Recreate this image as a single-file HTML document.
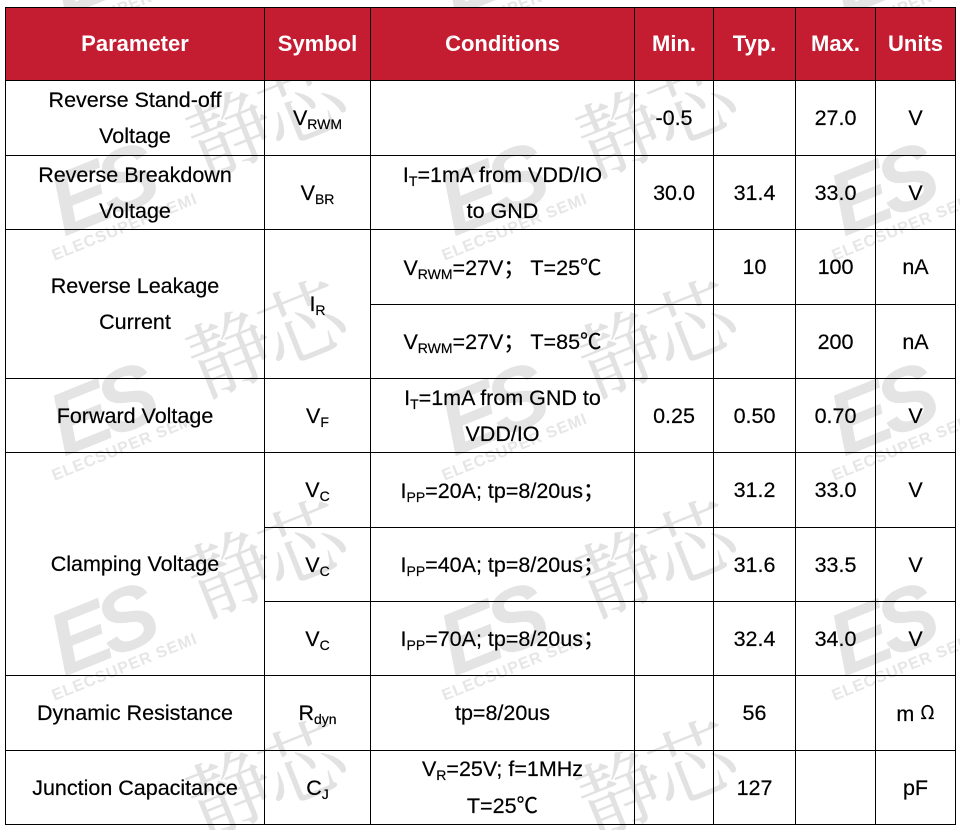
<!DOCTYPE html>
<html><head><meta charset="utf-8">
<style>
html{margin:0;padding:0;width:960px;height:830px;overflow:hidden;background:#fff;}
body{margin:0;padding:0;background:#fff;width:960px;height:830px;position:relative;overflow:hidden;font-family:"Liberation Sans","Noto Sans CJK SC",sans-serif;}
.c{position:absolute;box-sizing:border-box;border-right:1px solid #000;border-bottom:1px solid #000;display:flex;align-items:center;justify-content:center;text-align:center;font-size:21.5px;line-height:36px;color:#000;z-index:2;-webkit-text-stroke:0.2px #000;}
.h{background:#C41D32;color:#fff;font-weight:bold;font-size:22px;-webkit-text-stroke:0;}
sub{font-size:14px;vertical-align:-4px;line-height:0;}
.cj{font-family:"Noto Sans CJK SC","Liberation Sans",sans-serif;}
.ln{position:absolute;background:#000;z-index:3;}
#wmwrap{position:absolute;left:0;top:0;width:960px;height:830px;overflow:hidden;z-index:4;pointer-events:none;mix-blend-mode:darken;}
.wm{position:absolute;white-space:nowrap;transform:translate(-50%,-50%) rotate(-22deg);}
.k{font-family:"Noto Serif CJK SC",serif;font-size:84px;color:#e2e2e2;letter-spacing:-6px;}
.e{font-family:"Liberation Sans",sans-serif;font-weight:bold;font-style:italic;font-size:88px;color:#e4e4e4;letter-spacing:-8px;}
.t{font-family:"Liberation Sans",sans-serif;font-weight:bold;font-size:16px;color:#e6e6e6;letter-spacing:1px;}
</style></head><body>

<div class="ln" style="left:5px;top:7px;width:951px;height:1px;"></div>
<div class="ln" style="left:5px;top:7px;width:1px;height:818px;"></div>

<!-- header -->
<div class="c h" style="left:6px;top:8px;width:259px;height:73px;">Parameter</div>
<div class="c h" style="left:265px;top:8px;width:106px;height:73px;">Symbol</div>
<div class="c h" style="left:371px;top:8px;width:264px;height:73px;">Conditions</div>
<div class="c h" style="left:635px;top:8px;width:79px;height:73px;">Min.</div>
<div class="c h" style="left:714px;top:8px;width:82px;height:73px;">Typ.</div>
<div class="c h" style="left:796px;top:8px;width:80px;height:73px;">Max.</div>
<div class="c h" style="left:876px;top:8px;width:80px;height:73px;">Units</div>

<!-- row1 80-155 -->
<div class="c" style="left:6px;top:81px;width:259px;height:75px;">Reverse Stand-off<br>Voltage</div>
<div class="c" style="left:265px;top:81px;width:106px;height:75px;"><span>V<sub>RWM</sub></span></div>
<div class="c" style="left:371px;top:81px;width:264px;height:75px;"></div>
<div class="c" style="left:635px;top:81px;width:79px;height:75px;">-0.5</div>
<div class="c" style="left:714px;top:81px;width:82px;height:75px;"></div>
<div class="c" style="left:796px;top:81px;width:80px;height:75px;">27.0</div>
<div class="c" style="left:876px;top:81px;width:80px;height:75px;">V</div>

<!-- row2 155-229 -->
<div class="c" style="left:6px;top:156px;width:259px;height:74px;">Reverse Breakdown<br>Voltage</div>
<div class="c" style="left:265px;top:156px;width:106px;height:74px;"><span>V<sub>BR</sub></span></div>
<div class="c" style="left:371px;top:156px;width:264px;height:74px;"><span>I<sub>T</sub>=1mA from VDD/IO<br>to GND</span></div>
<div class="c" style="left:635px;top:156px;width:79px;height:74px;">30.0</div>
<div class="c" style="left:714px;top:156px;width:82px;height:74px;">31.4</div>
<div class="c" style="left:796px;top:156px;width:80px;height:74px;">33.0</div>
<div class="c" style="left:876px;top:156px;width:80px;height:74px;">V</div>

<!-- row3 229-378 -->
<div class="c" style="left:6px;top:230px;width:259px;height:149px;">Reverse Leakage<br>Current</div>
<div class="c" style="left:265px;top:230px;width:106px;height:149px;"><span>I<sub>R</sub></span></div>
<div class="c" style="left:371px;top:230px;width:264px;height:75px;"><span>V<sub>RWM</sub>=27V<span class="cj">；</span> T=25<span class="cj">℃</span></span></div>
<div class="c" style="left:635px;top:230px;width:79px;height:75px;"></div>
<div class="c" style="left:714px;top:230px;width:82px;height:75px;">10</div>
<div class="c" style="left:796px;top:230px;width:80px;height:75px;">100</div>
<div class="c" style="left:876px;top:230px;width:80px;height:75px;">nA</div>
<div class="c" style="left:371px;top:305px;width:264px;height:74px;"><span>V<sub>RWM</sub>=27V<span class="cj">；</span> T=85<span class="cj">℃</span></span></div>
<div class="c" style="left:635px;top:305px;width:79px;height:74px;"></div>
<div class="c" style="left:714px;top:305px;width:82px;height:74px;"></div>
<div class="c" style="left:796px;top:305px;width:80px;height:74px;">200</div>
<div class="c" style="left:876px;top:305px;width:80px;height:74px;">nA</div>

<!-- row4 378-452 -->
<div class="c" style="left:6px;top:379px;width:259px;height:74px;">Forward Voltage</div>
<div class="c" style="left:265px;top:379px;width:106px;height:74px;"><span>V<sub>F</sub></span></div>
<div class="c" style="left:371px;top:379px;width:264px;height:74px;"><span>I<sub>T</sub>=1mA from GND to<br>VDD/IO</span></div>
<div class="c" style="left:635px;top:379px;width:79px;height:74px;">0.25</div>
<div class="c" style="left:714px;top:379px;width:82px;height:74px;">0.50</div>
<div class="c" style="left:796px;top:379px;width:80px;height:74px;">0.70</div>
<div class="c" style="left:876px;top:379px;width:80px;height:74px;">V</div>

<!-- row5 452-675 -->
<div class="c" style="left:6px;top:453px;width:259px;height:223px;">Clamping Voltage</div>
<div class="c" style="left:265px;top:453px;width:106px;height:75px;"><span>V<sub>C</sub></span></div>
<div class="c" style="left:371px;top:453px;width:264px;height:75px;"><span>I<sub>PP</sub>=20A; tp=8/20us<span class="cj">；</span></span></div>
<div class="c" style="left:635px;top:453px;width:79px;height:75px;"></div>
<div class="c" style="left:714px;top:453px;width:82px;height:75px;">31.2</div>
<div class="c" style="left:796px;top:453px;width:80px;height:75px;">33.0</div>
<div class="c" style="left:876px;top:453px;width:80px;height:75px;">V</div>

<div class="c" style="left:265px;top:528px;width:106px;height:74px;"><span>V<sub>C</sub></span></div>
<div class="c" style="left:371px;top:528px;width:264px;height:74px;"><span>I<sub>PP</sub>=40A; tp=8/20us<span class="cj">；</span></span></div>
<div class="c" style="left:635px;top:528px;width:79px;height:74px;"></div>
<div class="c" style="left:714px;top:528px;width:82px;height:74px;">31.6</div>
<div class="c" style="left:796px;top:528px;width:80px;height:74px;">33.5</div>
<div class="c" style="left:876px;top:528px;width:80px;height:74px;">V</div>

<div class="c" style="left:265px;top:602px;width:106px;height:74px;"><span>V<sub>C</sub></span></div>
<div class="c" style="left:371px;top:602px;width:264px;height:74px;"><span>I<sub>PP</sub>=70A; tp=8/20us<span class="cj">；</span></span></div>
<div class="c" style="left:635px;top:602px;width:79px;height:74px;"></div>
<div class="c" style="left:714px;top:602px;width:82px;height:74px;">32.4</div>
<div class="c" style="left:796px;top:602px;width:80px;height:74px;">34.0</div>
<div class="c" style="left:876px;top:602px;width:80px;height:74px;">V</div>

<!-- row6 675-750 -->
<div class="c" style="left:6px;top:676px;width:259px;height:75px;">Dynamic Resistance</div>
<div class="c" style="left:265px;top:676px;width:106px;height:75px;"><span>R<sub>dyn</sub></span></div>
<div class="c" style="left:371px;top:676px;width:264px;height:75px;">tp=8/20us</div>
<div class="c" style="left:635px;top:676px;width:79px;height:75px;"></div>
<div class="c" style="left:714px;top:676px;width:82px;height:75px;">56</div>
<div class="c" style="left:796px;top:676px;width:80px;height:75px;"></div>
<div class="c" style="left:876px;top:676px;width:80px;height:75px;"><span>m <span class="cj" style="font-size:19px;vertical-align:2px;">Ω</span></span></div>

<!-- row7 750-824 -->
<div class="c" style="left:6px;top:751px;width:259px;height:74px;">Junction Capacitance</div>
<div class="c" style="left:265px;top:751px;width:106px;height:74px;"><span>C<sub>J</sub></span></div>
<div class="c" style="left:371px;top:751px;width:264px;height:74px;"><span>V<sub>R</sub>=25V; f=1MHz<br>T=25<span class="cj">℃</span></span></div>
<div class="c" style="left:635px;top:751px;width:79px;height:74px;"></div>
<div class="c" style="left:714px;top:751px;width:82px;height:74px;">127</div>
<div class="c" style="left:796px;top:751px;width:80px;height:74px;"></div>
<div class="c" style="left:876px;top:751px;width:80px;height:74px;">pF</div>

<!-- watermarks -->
<div id="wmwrap">
<div class="wm k" style="left:262px;top:115px;">静芯</div>
<div class="wm k" style="left:652px;top:115px;">静芯</div>
<div class="wm k" style="left:262px;top:335px;">静芯</div>
<div class="wm k" style="left:652px;top:335px;">静芯</div>
<div class="wm k" style="left:262px;top:555px;">静芯</div>
<div class="wm k" style="left:652px;top:555px;">静芯</div>
<div class="wm k" style="left:262px;top:775px;">静芯</div>
<div class="wm k" style="left:652px;top:775px;">静芯</div>

<div class="wm e" style="left:100px;top:-30px;">ES</div>
<div class="wm e" style="left:490px;top:-30px;">ES</div>
<div class="wm e" style="left:880px;top:-30px;">ES</div>
<div class="wm e" style="left:100px;top:190px;">ES</div>
<div class="wm e" style="left:490px;top:190px;">ES</div>
<div class="wm e" style="left:880px;top:190px;">ES</div>
<div class="wm e" style="left:100px;top:410px;">ES</div>
<div class="wm e" style="left:490px;top:410px;">ES</div>
<div class="wm e" style="left:880px;top:410px;">ES</div>
<div class="wm e" style="left:100px;top:630px;">ES</div>
<div class="wm e" style="left:490px;top:630px;">ES</div>
<div class="wm e" style="left:880px;top:630px;">ES</div>

<div class="wm t" style="left:125px;top:8px;">ELECSUPER SEMI</div>
<div class="wm t" style="left:515px;top:8px;">ELECSUPER SEMI</div>
<div class="wm t" style="left:905px;top:8px;">ELECSUPER SEMI</div>
<div class="wm t" style="left:125px;top:228px;">ELECSUPER SEMI</div>
<div class="wm t" style="left:515px;top:228px;">ELECSUPER SEMI</div>
<div class="wm t" style="left:905px;top:228px;">ELECSUPER SEMI</div>
<div class="wm t" style="left:125px;top:448px;">ELECSUPER SEMI</div>
<div class="wm t" style="left:515px;top:448px;">ELECSUPER SEMI</div>
<div class="wm t" style="left:905px;top:448px;">ELECSUPER SEMI</div>
<div class="wm t" style="left:125px;top:668px;">ELECSUPER SEMI</div>
<div class="wm t" style="left:515px;top:668px;">ELECSUPER SEMI</div>
<div class="wm t" style="left:905px;top:668px;">ELECSUPER SEMI</div>
</div>

</body></html>
